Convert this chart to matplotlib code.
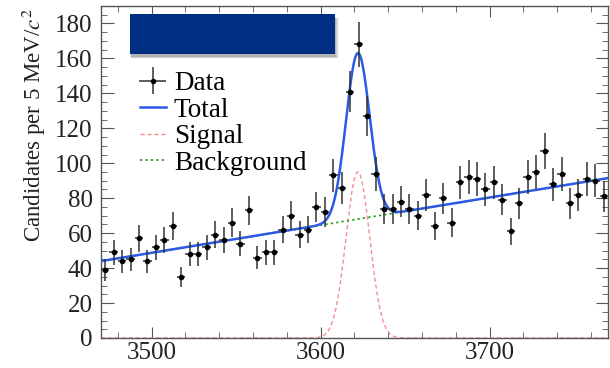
import numpy as np
import matplotlib
matplotlib.use("Agg")
import matplotlib.pyplot as plt
from matplotlib.patches import Rectangle
from matplotlib.ticker import MultipleLocator

plt.rcParams['font.family'] = ['Liberation Serif', 'DejaVu Serif']
plt.rcParams['mathtext.fontset'] = 'stix'

# data: 5 MeV bins from 3470 to 3770
bin_centers = np.arange(3472.5, 3770, 5.0)
counts = [39, 49, 44, 45, 57, 44, 52, 56, 64, 35,
          48, 48, 52, 59, 56, 66, 54, 73, 46, 49,
          49, 62, 70, 59, 62, 75, 72, 93, 86, 141,
          168, 127, 94, 74, 74, 78, 74, 70, 82, 64,
          80, 66, 89, 92, 91, 85, 89, 79, 61, 77,
          92, 95, 107, 88, 94, 77, 82, 91, 90, 81]

# fit result
sig_peak = 95.0
sig_mean = 3622.0
sig_width = 7.0
bkg_ends_x = [3470, 3770]
bkg_ends_y = [44.0, 91.5]

counts = np.array(counts, dtype=float)
errs = np.sqrt(counts)

xs = np.linspace(3470, 3770, 1200)
bkg = np.interp(xs, bkg_ends_x, bkg_ends_y)
sig = sig_peak * np.exp(-0.5 * ((xs - sig_mean) / sig_width) ** 2)
total = bkg + sig

fig = plt.figure(figsize=(6.1, 3.68), dpi=100)
ax = fig.add_axes([101 / 610, 1 - 338 / 368, 507 / 610, 332 / 368])

ax.plot(xs, sig, color='#f49090', lw=1.0, ls=(0, (3, 2)), label='Signal', zorder=2)
ax.plot(xs, bkg, color='#2a9a2a', lw=1.3, ls=(0, (1.2, 1.8)), label='Background', zorder=3)
ax.plot(xs, total, color='#2a5ae6', lw=1.8, label='Total', zorder=4)
data = ax.errorbar(bin_centers, counts, xerr=2.5, yerr=errs, fmt='o', ms=3,
                   color='black', ecolor='#333333', elinewidth=1.1, capsize=0,
                   label='Data', zorder=5)

ax.set_xlim(3470, 3770)
ax.set_ylim(0, 190)
ax.xaxis.set_major_locator(MultipleLocator(100))
ax.xaxis.set_minor_locator(MultipleLocator(20))
ax.yaxis.set_major_locator(MultipleLocator(20))
ax.yaxis.set_minor_locator(MultipleLocator(5))
ax.tick_params(which='both', direction='in', top=True, right=True,
               color='#555555', labelsize=18, labelcolor='#222222')
ax.tick_params(axis='y', which='major', length=9, pad=6)
ax.tick_params(axis='y', which='minor', length=4.5)
ax.tick_params(axis='x', which='major', length=8, pad=3)
ax.tick_params(axis='x', which='minor', length=4.5)
for s in ax.spines.values():
    s.set_color('#555555')
    s.set_linewidth(1.0)

ax.set_ylabel('Candidates per 5 MeV/$c^2$', fontsize=16.5, color='#222222', loc='top')
ax.yaxis.set_label_coords(-0.105, 0.995)

handles, labels = ax.get_legend_handles_labels()
order = ['Data', 'Total', 'Signal', 'Background']
hmap = dict(zip(labels, handles))
ax.legend([hmap[k] for k in order], order, loc='upper left',
          bbox_to_anchor=(140 / 610, 1 - 71 / 368), bbox_transform=fig.transFigure,
          frameon=False, fontsize=19.5, handlelength=0.95, handletextpad=0.3,
          labelspacing=0.06, borderpad=0, borderaxespad=0)

# blue banner with soft shadow
for i, a in enumerate([0.05, 0.07, 0.09, 0.11]):
    off = (4 - i) / 610
    fig.add_artist(Rectangle((130 / 610 + off * 0.3, 1 - 57 / 368 - off * 0.6),
                             205 / 610 + off * 0.8, 40 / 368,
                             transform=fig.transFigure, color='black', alpha=a,
                             lw=0, zorder=9))
fig.add_artist(Rectangle((130 / 610, 1 - 54 / 368), 205 / 610, 40 / 368,
                         transform=fig.transFigure, color='#002e82', lw=0, zorder=10))

fig.savefig('out.png', dpi=100)
